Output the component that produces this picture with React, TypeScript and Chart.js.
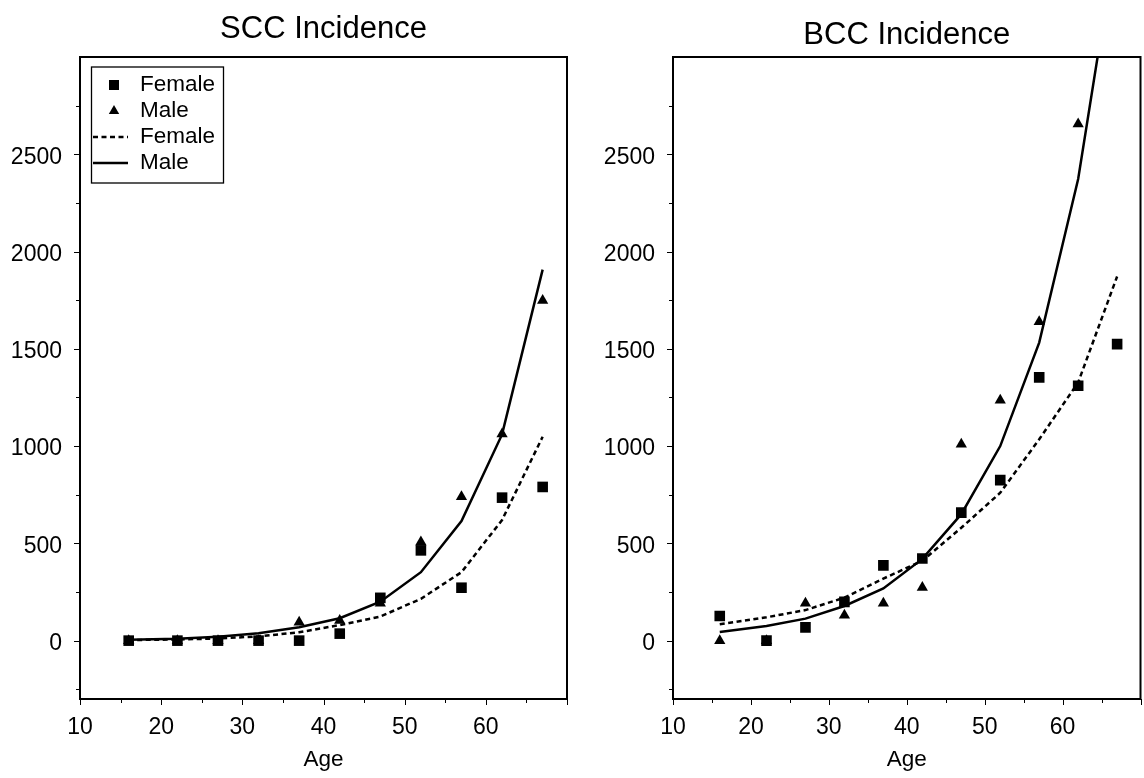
import React, { useEffect, useRef } from "react";
import { Chart, registerables } from "chart.js";

Chart.register(...registerables);

const FONT = "'Liberation Sans', Arial, Helvetica, sans-serif";

const AGES = [16, 22, 27, 32, 37, 42, 47, 52, 57, 62, 67];

const SCC_FEMALE_OBS = [0, 0, 0, 0, 0, 36, 220, 464, 272, 735, 790];
const SCC_MALE_OBS = [0, 0, 0, 0, 94, 103, 192, 507, 739, 1062, 1749];
const SCC_FEMALE_FIT = [3, 6, 11, 22, 43, 80, 124, 215, 352, 620, 1048];
const SCC_MALE_FIT = [5, 10, 20, 38, 69, 115, 200, 352, 615, 1060, 1907];

const BCC_FEMALE_OBS = [127, 0, 68, 199, 387, 422, 658, 825, 1353, 1310, 1524];
const BCC_MALE_OBS = [0, 0, 192, 130, 192, 273, 1010, 1236, 1639, 2655, null];
const BCC_FEMALE_FIT = [84, 120, 157, 221, 319, 410, 580, 760, 1035, 1327, 1872];
const BCC_MALE_FIT = [44, 75, 113, 178, 268, 420, 650, 1000, 1532, 2373, 3630];

const X_LABEL_TICKS = [10, 20, 30, 40, 50, 60];
const X_MAJOR_MARKS = [10, 20, 30, 40, 50, 60, 70];
const X_MINOR_MARKS = [15, 25, 35, 45, 55, 65];
const Y_LABEL_TICKS = [0, 500, 1000, 1500, 2000, 2500];
const Y_MINOR_MARKS = [-250, 250, 750, 1250, 1750, 2250, 2750];
const LEGEND_LABELS = ["Female", "Male", "Female", "Male"];
const TITLES = ["SCC Incidence", "BCC Incidence"];
const X_TITLE = "Age";

const frameAndTicks = {
  id: "frameAndTicks",
  afterDraw(chart: any) {
    const { ctx, chartArea: a, scales } = chart;
    const xs = scales.x;
    const ys = scales.y;
    ctx.save();
    ctx.strokeStyle = "#000";
    ctx.lineWidth = 1;
    ctx.beginPath();
    const xMark = (v: number, len: number) => {
      const px = Math.round(xs.getPixelForValue(v)) + 0.5;
      ctx.moveTo(px, a.bottom);
      ctx.lineTo(px, a.bottom + len);
    };
    const yMark = (v: number, len: number) => {
      const py = Math.round(ys.getPixelForValue(v)) + 0.5;
      ctx.moveTo(a.left, py);
      ctx.lineTo(a.left - len, py);
    };
    X_MAJOR_MARKS.forEach((v) => xMark(v, 6));
    X_MINOR_MARKS.forEach((v) => xMark(v, 4));
    Y_LABEL_TICKS.forEach((v) => yMark(v, 6));
    Y_MINOR_MARKS.forEach((v) => yMark(v, 4));
    ctx.stroke();
    ctx.lineWidth = 2;
    ctx.strokeRect(a.left, a.top, a.right - a.left, a.bottom - a.top);
    ctx.restore();
  },
};

const centeredTitle = {
  id: "centeredTitle",
  afterDraw(chart: any, _args: any, opts: any) {
    if (!opts || !opts.text) return;
    const { ctx, chartArea: a } = chart;
    ctx.save();
    ctx.fillStyle = "#000";
    ctx.font = `31px ${FONT}`;
    ctx.textAlign = "center";
    ctx.textBaseline = "middle";
    ctx.fillText(opts.text, (a.left + a.right) / 2, opts.y);
    ctx.restore();
  },
};

const boxLegend = {
  id: "boxLegend",
  afterDraw(chart: any, _args: any, opts: any) {
    if (!opts || !opts.show) return;
    const { ctx, chartArea: a } = chart;
    const bx = a.left + 11.5;
    const by = a.top + 10;
    const bw = 132;
    const bh = 116;
    ctx.save();
    ctx.fillStyle = "#fff";
    ctx.fillRect(bx, by, bw, bh);
    ctx.strokeStyle = "#000";
    ctx.lineWidth = 1.3;
    ctx.strokeRect(bx, by, bw, bh);
    chart.data.datasets.forEach((ds: any, i: number) => {
      const cy = by + 18 + i * 26;
      const mx = bx + 22.5;
      ctx.fillStyle = "#000";
      ctx.strokeStyle = "#000";
      if (ds.type === "line") {
        ctx.setLineDash(ds.borderDash || []);
        ctx.lineWidth = ds.borderWidth;
        ctx.beginPath();
        ctx.moveTo(bx + 1.5, cy);
        ctx.lineTo(bx + 36.5, cy);
        ctx.stroke();
        ctx.setLineDash([]);
      } else if (ds.pointStyle === "rect") {
        ctx.fillRect(mx - 5, cy - 5, 10, 10);
      } else {
        const r = 6;
        ctx.beginPath();
        ctx.moveTo(mx, cy - r);
        ctx.lineTo(mx + r * 0.866, cy + r / 2);
        ctx.lineTo(mx - r * 0.866, cy + r / 2);
        ctx.closePath();
        ctx.fill();
      }
      ctx.font = `22.5px ${FONT}`;
      ctx.textBaseline = "middle";
      ctx.textAlign = "left";
      ctx.fillText(ds.label, bx + 48.5, cy);
    });
    ctx.restore();
  },
};

function toPts(vals: (number | null)[]) {
  return AGES.map((a, i) => ({ x: a, y: vals[i] }));
}

type PanelProps = {
  title: string;
  titleY: number;
  femaleObs: (number | null)[];
  maleObs: (number | null)[];
  femaleFit: (number | null)[];
  maleFit: (number | null)[];
  yAxisWidth: number;
  padRight: number;
  legend: boolean;
  width: number;
  height: number;
};

function Panel(p: PanelProps) {
  const ref = useRef<HTMLCanvasElement | null>(null);
  useEffect(() => {
    if (!ref.current) return;
    const chart = new Chart(ref.current, {
      type: "scatter",
      data: {
        datasets: [
          {
            type: "scatter",
            label: LEGEND_LABELS[0],
            data: toPts(p.femaleObs),
            pointStyle: "rect",
            pointRadius: 7.5,
            pointHoverRadius: 7.5,
            backgroundColor: "#000",
            borderColor: "#000",
            borderWidth: 0,
            order: 0,
          },
          {
            type: "scatter",
            label: LEGEND_LABELS[1],
            data: toPts(p.maleObs),
            pointStyle: "triangle",
            pointRadius: 6.5,
            pointHoverRadius: 6.5,
            backgroundColor: "#000",
            borderColor: "#000",
            borderWidth: 0,
            order: 1,
          },
          {
            type: "line",
            label: LEGEND_LABELS[2],
            data: toPts(p.femaleFit),
            borderColor: "#000",
            borderWidth: 2.5,
            borderDash: [5, 3.5],
            pointRadius: 0,
            fill: false,
            tension: 0,
            order: 2,
          },
          {
            type: "line",
            label: LEGEND_LABELS[3],
            data: toPts(p.maleFit),
            borderColor: "#000",
            borderWidth: 2.5,
            pointRadius: 0,
            fill: false,
            tension: 0,
            order: 3,
          },
        ],
      } as any,
      options: {
        responsive: false,
        animation: false,
        devicePixelRatio: 1,
        layout: { padding: { left: 0, right: p.padRight, top: 57, bottom: 0 } },
        plugins: {
          legend: { display: false },
          tooltip: { enabled: false },
          title: { display: false },
          centeredTitle: { text: p.title, y: p.titleY },
          boxLegend: { show: p.legend },
        } as any,
        scales: {
          x: {
            type: "linear",
            min: 10,
            max: 70,
            afterBuildTicks: (s: any) => {
              s.ticks = X_LABEL_TICKS.map((value) => ({ value }));
            },
            afterFit: (s: any) => {
              s.height = 79;
            },
            ticks: {
              color: "#000",
              font: { family: FONT, size: 23 },
              padding: 15,
              maxRotation: 0,
              autoSkip: false,
              callback: (v: any) => String(v),
            },
            grid: { display: false, drawTicks: false },
            border: { display: false },
            title: {
              display: true,
              text: X_TITLE,
              color: "#000",
              font: { family: FONT, size: 22.5 },
              padding: { top: 0, bottom: 5 },
            },
          },
          y: {
            type: "linear",
            min: -300,
            max: 3000,
            afterBuildTicks: (s: any) => {
              s.ticks = Y_LABEL_TICKS.map((value) => ({ value }));
            },
            afterFit: (s: any) => {
              s.width = p.yAxisWidth;
            },
            ticks: {
              color: "#000",
              font: { family: FONT, size: 23 },
              padding: 18,
              labelOffset: 3,
              autoSkip: false,
              callback: (v: any) => String(v),
            },
            grid: { display: false, drawTicks: false },
            border: { display: false },
          },
        } as any,
      },
      plugins: [frameAndTicks, boxLegend, centeredTitle],
    } as any);
    return () => chart.destroy();
  }, []);
  return <canvas ref={ref} width={p.width} height={p.height} style={{ display: "block" }} />;
}

export default function App() {
  return (
    <div
      style={{
        position: "fixed",
        left: 0,
        top: 0,
        width: 1144,
        height: 778,
        overflow: "hidden",
        background: "#fff",
      }}
    >
      <div style={{ position: "absolute", left: 0, top: 0 }}>
        <Panel
          title={TITLES[0]}
          titleY={29.5}
          femaleObs={SCC_FEMALE_OBS}
          maleObs={SCC_MALE_OBS}
          femaleFit={SCC_FEMALE_FIT}
          maleFit={SCC_MALE_FIT}
          yAxisWidth={80}
          padRight={33}
          legend={true}
          width={600}
          height={778}
        />
      </div>
      <div style={{ position: "absolute", left: 600, top: 0 }}>
        <Panel
          title={TITLES[1]}
          titleY={35}
          femaleObs={BCC_FEMALE_OBS}
          maleObs={BCC_MALE_OBS}
          femaleFit={BCC_FEMALE_FIT}
          maleFit={BCC_MALE_FIT}
          yAxisWidth={73}
          padRight={2}
          legend={false}
          width={548}
          height={778}
        />
      </div>
    </div>
  );
}
